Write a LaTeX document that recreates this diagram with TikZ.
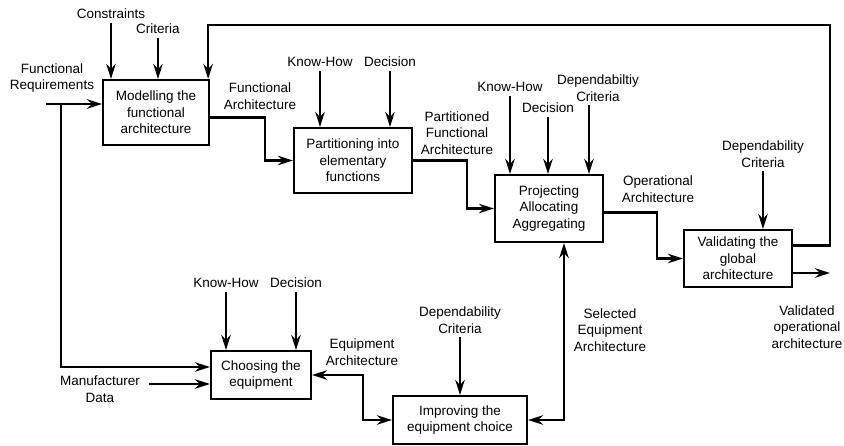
\documentclass[tikz,border=0pt]{standalone}
\usepackage{fontspec}
\setmainfont{Liberation Sans}
\usetikzlibrary{arrows.meta,positioning}

\begin{document}
\begin{tikzpicture}[
  x=1pt, y=-1pt,
  font=\fontsize{13.5}{16.5}\selectfont,
  line width=2.2pt,
  >={Stealth[length=15pt, width=9.5pt, inset=5pt]},
  activity/.style={draw, align=center, inner sep=2pt},
  info/.style={align=center, inner sep=3pt},
  flow/.style={->},
  twoway/.style={<->}
]
  \useasboundingbox (0,0) rectangle (844,445);

  % activities
  \node[activity, minimum width=106pt, minimum height=65pt] (model) at (156,112.5) {Modelling the\\functional\\architecture};
  \node[activity, minimum width=118pt, minimum height=65pt] (part) at (353,160.5) {Partitioning into\\elementary\\functions};
  \node[activity, minimum width=108pt, minimum height=67pt] (proj) at (549,208.5) {Projecting\\Allocating\\Aggregating};
  \node[activity, minimum width=108pt, minimum height=57pt] (valid) at (738,258.5) {Validating the\\global\\architecture};
  \node[activity, minimum width=100pt, minimum height=48pt] (choose) at (261,375) {Choosing the\\equipment};
  \node[activity, minimum width=134pt, minimum height=48pt] (improve) at (460,420) {Improving the\\equipment choice};

  % controls and data
  \node[info] (constr) at (111,14) {Constraints};
  \node[info] (crit) at (158,29) {Criteria};
  \node[info] (funcreq) at (52,78) {Functional\\Requirements};
  \node[info] (funcarch) at (260,96) {Functional\\Architecture};
  \node[info] (kh2) at (320,62) {Know-How};
  \node[info] (dec2) at (390,62) {Decision};
  \node[info] (partarch) at (457,133) {Partitioned\\Functional\\Architecture};
  \node[info] (kh3) at (510,87) {Know-How};
  \node[info] (dec3) at (548,108) {Decision};
  \node[info] (dep3) at (598,88) {Dependabiltiy\\Criteria};
  \node[info] (oparch) at (658,189) {Operational\\Architecture};
  \node[info] (dep4) at (763,154) {Dependability\\Criteria};
  \node[info] (validated) at (807,327) {Validated\\operational\\architecture};
  \node[info] (kh5) at (226,283) {Know-How};
  \node[info] (dec5) at (296,283) {Decision};
  \node[info] (manuf) at (100,389) {Manufacturer\\Data};
  \node[info] (equiparch) at (362,352) {Equipment\\Architecture};
  \node[info] (dep6) at (460,320) {Dependability\\Criteria};
  \node[info] (selarch) at (610,330) {Selected\\Equipment\\Architecture};

  \coordinate (frin) at (46,104);
  \coordinate (frsplit) at (61,104);
  \coordinate (mdin) at (149,384);
  \coordinate (loop) at (830,25);
  \coordinate (vout) at (830,273);

  % inputs from above
  \draw[flow] (constr) -- (constr |- model.north);
  \draw[flow] (crit) -- (crit |- model.north);
  \draw[flow] (kh2) -- (kh2 |- part.north);
  \draw[flow] (dec2) -- (dec2 |- part.north);
  \draw[flow] (kh3) -- (kh3 |- proj.north);
  \draw[flow] (dec3) -- (dec3 |- proj.north);
  \draw[flow] ([xshift=-9pt]dep3.south) -- ([xshift=-9pt]dep3.south |- proj.north);
  \draw[flow] (dep4) -- (dep4 |- valid.north);
  \draw[flow] (kh5) -- (kh5 |- choose.north);
  \draw[flow] (dec5) -- (dec5 |- choose.north);
  \draw[flow] (dep6) -- (dep6 |- improve.north);

  % main chain
  \draw[flow] (frin) -- (frin -| model.west);
  \draw[flow] (frsplit) |- ([yshift=8pt]choose.west);
  \draw[flow] (mdin) -- (mdin -| choose.west);
  \draw[flow] ([yshift=-5pt]model.east) -- ++(55,0) |- (part.west);
  \draw[flow] (part.east) -- ++(54,0) |- (proj.west);
  \draw[flow] ([yshift=-4pt]proj.east) -- ++(53,0) |- (valid.west);
  \draw[flow] ([yshift=13pt]valid.east) -| (loop) -| ([xshift=-2pt]model.north east);
  \draw[flow] (valid.east |- vout) -- (vout);
  \draw[twoway] (choose.east) -- ++(51,0) |- (improve.west);
  \draw[twoway] (improve.east) -| ([xshift=15pt]proj.south);
\end{tikzpicture}
\end{document}
